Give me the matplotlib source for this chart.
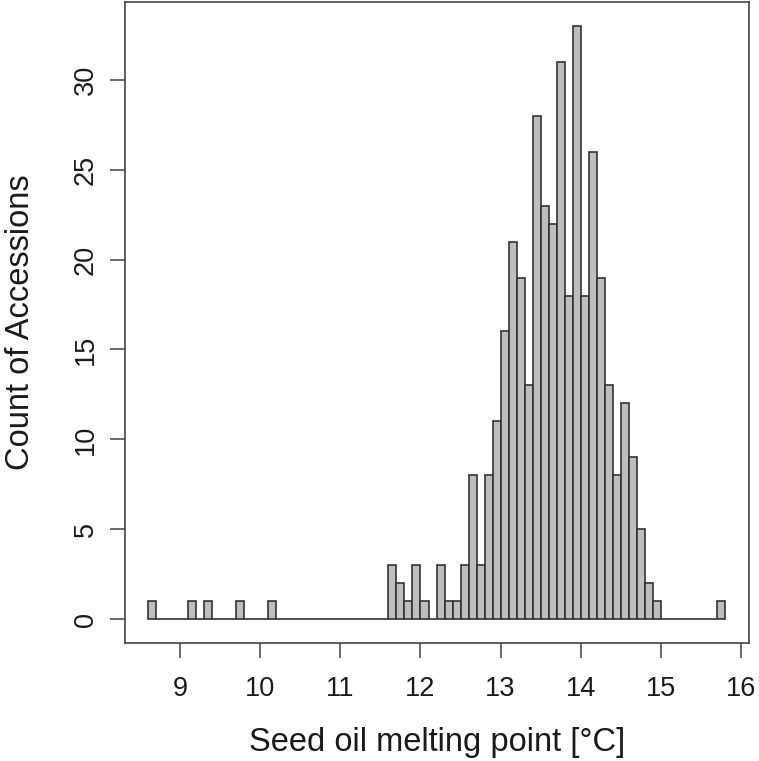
import matplotlib
matplotlib.use("Agg")
import matplotlib.pyplot as plt
import numpy as np

# histogram bins (width 0.1 degC) and counts
bin_start = 8.6
bin_width = 0.1
counts = [1, 0, 0, 0, 0, 1, 0, 1, 0, 0, 0, 1, 0, 0, 0, 1,   # 8.6 - 10.1
          0, 0, 0, 0, 0, 0, 0, 0, 0, 0, 0, 0, 0, 0,         # 10.2 - 11.5
          3, 2, 1, 3, 1, 0, 3, 1, 1, 3, 8, 3, 8, 11,       # 11.6 - 12.9
          16, 21, 19, 13, 28, 23, 22, 31, 18, 33,          # 13.0 - 13.9
          18, 26, 19, 13, 8, 12, 9, 5, 2, 1,               # 14.0 - 14.9
          0, 0, 0, 0, 0, 0, 0, 1]                          # 15.0 - 15.7
x_ticks = [9, 10, 11, 12, 13, 14, 15, 16]
y_ticks = [0, 5, 10, 15, 20, 25, 30]

plt.rcParams['font.family'] = ['Liberation Sans', 'DejaVu Sans']

fig = plt.figure(figsize=(7.59, 7.61), dpi=100)
ax = fig.add_axes([125/759, (761-643)/761, (749-125)/759, (643-2)/761])

edges = bin_start + bin_width*np.arange(len(counts))
ax.bar(edges, counts, width=bin_width, align="edge",
       color="#bebebe", edgecolor="#333333", linewidth=1.2)

ax.set_xlim(8.312, 16.1)
ax.set_ylim(-1.32, 34.32)
ax.set_xticks(x_ticks)
ax.set_yticks(y_ticks)
ax.tick_params(direction="out", length=11, width=1.1, color="#444444",
               labelsize=19.5, labelcolor="#1a1a1a")
ax.tick_params(axis="x", pad=13)
ax.tick_params(axis="y", pad=8)
for lab in ax.get_yticklabels():
    lab.set_rotation(90)
    lab.set_va("center")
for s in ax.spines.values():
    s.set_color("#444444")
    s.set_linewidth(1.2)

ax.set_xlabel("Seed oil melting point [°C]", fontsize=23.5, color="#1a1a1a")
ax.set_ylabel("Count of Accessions", fontsize=23.5, color="#1a1a1a")
ax.xaxis.set_label_coords(0.5, -0.1545)
ax.yaxis.set_label_coords(-0.168, 0.5)
ax.xaxis.label.set_va("center")
ax.yaxis.label.set_va("center")

fig.savefig("out.png", dpi=100)
